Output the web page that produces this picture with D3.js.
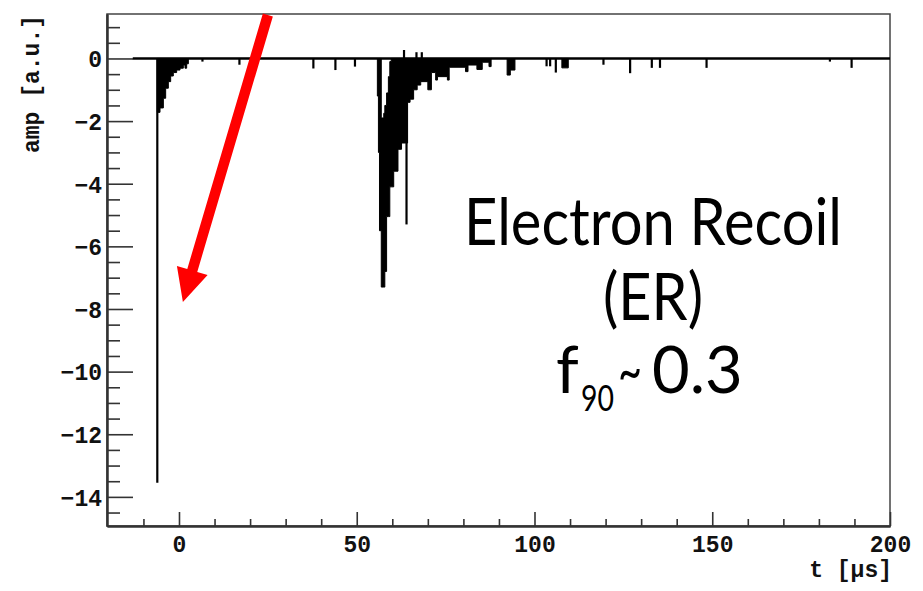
<!DOCTYPE html>
<html>
<head>
<meta charset="utf-8">
<script src="https://cdn.jsdelivr.net/npm/d3@7"></script>
<style>
  html, body { margin: 0; padding: 0; background: #fff; }
  svg { display: block; }
  .tick text { font-family: "Liberation Mono", "DejaVu Sans Mono", monospace; font-weight: bold; }
</style>
</head>
<body>
<div id="chart"></div>
<script>
'use strict';

// x ticks (t in microseconds) and y ticks (amplitude)
var xMajor = [0, 50, 100, 150, 200];
var xMinor = [-10, 10, 20, 30, 40, 60, 70, 80, 90, 110, 120, 130, 140, 160, 170, 180, 190];
var yMajor = [0, -2, -4, -6, -8, -10, -12, -14];
var yMinor = [1, 0.5, -0.5, -1, -1.5, -2.5, -3, -3.5, -4.5, -5, -5.5, -6.5, -7, -7.5,
  -8.5, -9, -9.5, -10.5, -11, -11.5, -12.5, -13, -13.5, -14.5];

// recorded trace window
var traceStart = -13;
var traceEnd = 200;

// envelope of the dense parts of the waveform: bin start time, lowest and highest sample
var envT  = [-6.1, -5.34, -4.4, -3.75, -3.0, -2.34, -1.6, -0.66, 0.28, 1.22, 1.69, 2.16, 2.63,
  55.8, 56.1, 56.4, 56.9, 57.6, 57.9, 58.4, 58.9, 59.3, 59.7, 60.4, 61.6, 62.6, 63.8, 64.3,
  65.0, 66.0, 67.0, 68.0, 70.0, 71.0, 72.2, 72.7, 75.5, 76.0, 80.6, 81.3, 83.8, 85.3, 87.2,
  87.8, 92.3, 93.2, 94.5, 107.7, 109.5];
var envLo = [-1.72, -1.58, -1.27, -0.95, -0.74, -0.56, -0.45, -0.37, -0.31, -0.21, -0.31, -0.17, 0,
  -1.2, -3.0, -5.5, -7.3, -7.3, -6.8, -5.05, -5.05, -4.1, -4.1, -3.6, -2.9, -2.7, -2.7, -1.4,
  -1.3, -1.0, -0.85, -0.74, -1.0, -0.45, -0.69, -0.58, -0.69, -0.28, -0.42, -0.21, -0.35, -0.12, -0.26,
  0, -0.53, -0.37, 0, -0.3, 0];
var envHi = [0, 0, 0, 0, 0, 0, 0, 0, 0, 0, 0, 0, 0,
  0, 0, 0, -1.9, -1.75, -1.5, -1.1, -0.58, -0.1, 0, 0, 0, 0, 0, 0,
  0, 0, 0, 0, 0, 0, 0, 0, 0, 0, 0, 0, 0, 0, 0,
  0, 0, 0, 0, 0, 0];

// isolated single-sample spikes
var spikeT   = [-6.1, 64.0, 6.6, 17.0, 37.8, 44.0, 49.5, 103.4, 104.4, 106.0, 119.4, 126.9,
  133.0, 135.3, 148.4, 183.1, 189.2, 63.3, 66.8, 68.3];
var spikeAmp = [-13.55, -5.3, -0.1, -0.2, -0.32, -0.37, -0.26, -0.25, -0.25, -0.45, -0.2, -0.47,
  -0.3, -0.3, -0.3, -0.1, -0.3, 0.27, 0.2, 0.2];

// annotation arrow (data coords): tail, head
var arrowFrom = [25.0, 1.39];
var arrowTo = [1.1, -7.78];

var width = 923, height = 591;
var margin = { top: 14, right: 33, bottom: 65, left: 107 };
var innerW = width - margin.left - margin.right;
var innerH = height - margin.top - margin.bottom;

var x = d3.scaleLinear().domain([-20.25, 200]).range([0, innerW]);
var y = d3.scaleLinear().domain([-14.93, 1.42]).range([innerH, 0]);

var svg = d3.select('#chart').append('svg')
    .attr('width', width)
    .attr('height', height);

var g = svg.append('g')
    .attr('transform', 'translate(' + margin.left + ',' + margin.top + ')');

// frame
g.append('rect')
    .attr('width', innerW)
    .attr('height', innerH)
    .attr('fill', 'none')
    .attr('stroke', '#444')
    .attr('stroke-width', 1.5);

// minor ticks
var yMinorAxis = g.append('g')
    .call(d3.axisLeft(y).tickValues(yMinor).tickSize(-13).tickSizeOuter(0).tickFormat(''));
var xMinorAxis = g.append('g')
    .attr('transform', 'translate(0,' + innerH + ')')
    .call(d3.axisBottom(x).tickValues(xMinor).tickSize(-7).tickSizeOuter(0).tickFormat(''));

// major ticks with labels
var yAxis = g.append('g')
    .call(d3.axisLeft(y).tickValues(yMajor).tickSize(-26).tickSizeOuter(0).tickPadding(5)
      .tickFormat(function (d) { return d < 0 ? '\u2212' + Math.abs(d) : d; }));
var xAxis = g.append('g')
    .attr('transform', 'translate(0,' + innerH + ')')
    .call(d3.axisBottom(x).tickValues(xMajor).tickSize(-14).tickSizeOuter(0).tickPadding(10));

[yMinorAxis, xMinorAxis, yAxis, xAxis].forEach(function (a) {
  a.selectAll('.domain').attr('stroke', '#333').attr('stroke-width', 2);
  a.selectAll('.tick line').attr('stroke', '#333').attr('stroke-width', 1.6);
});
g.selectAll('.tick text').attr('font-size', 23).attr('fill', '#111');
yAxis.selectAll('.tick text').attr('dy', '0.36em');
xAxis.selectAll('.tick text').attr('dy', '0.7em');

// axis titles
svg.append('text')
    .attr('x', margin.left + innerW + 2)
    .attr('y', 577)
    .attr('text-anchor', 'end')
    .attr('font-family', '"Liberation Mono", monospace')
    .attr('font-weight', 'bold')
    .attr('font-size', 23)
    .attr('fill', '#111')
    .text('t [\u03bcs]');

svg.append('text')
    .attr('transform', 'translate(39,15) rotate(-90)')
    .attr('text-anchor', 'end')
    .attr('font-family', '"Liberation Mono", monospace')
    .attr('font-weight', 'bold')
    .attr('font-size', 23)
    .attr('fill', '#111')
    .text('amp [a.u.]');

// waveform
var plot = g.append('g');

plot.append('line')
    .attr('x1', x(traceStart))
    .attr('x2', x(traceEnd))
    .attr('y1', y(0))
    .attr('y2', y(0))
    .attr('stroke', '#000')
    .attr('stroke-width', 2.5);

var env = envT.map(function (t, i) { return { t: t, lo: envLo[i], hi: envHi[i] }; });
var area = d3.area()
    .curve(d3.curveStepAfter)
    .x(function (d) { return x(d.t); })
    .y0(function (d) { return y(d.hi); })
    .y1(function (d) { return y(d.lo); });

plot.append('path')
    .datum(env)
    .attr('d', area)
    .attr('fill', '#000')
    .attr('stroke', '#000')
    .attr('stroke-width', 1);

plot.selectAll('line.spike')
    .data(spikeT.map(function (t, i) { return { t: t, a: spikeAmp[i] }; }))
    .enter()
    .append('line')
    .attr('class', 'spike')
    .attr('x1', function (d) { return x(d.t); })
    .attr('x2', function (d) { return x(d.t); })
    .attr('y1', y(0))
    .attr('y2', function (d) { return y(d.a); })
    .attr('stroke', '#000')
    .attr('stroke-width', 2.2);

// red arrow
var ax0 = x(arrowFrom[0]), ay0 = y(arrowFrom[1]);
var ax1 = x(arrowTo[0]), ay1 = y(arrowTo[1]);
var len = Math.hypot(ax1 - ax0, ay1 - ay0);
var ux = (ax1 - ax0) / len, uy = (ay1 - ay0) / len;
var headLen = 33, headHalf = 16, shaftHalf = 5.2;
var bx = ax1 - ux * headLen, by = ay1 - uy * headLen;
var px = -uy, py = ux;
var arrowPts = [
  [ax0 + px * shaftHalf, ay0 + py * shaftHalf],
  [bx + px * shaftHalf, by + py * shaftHalf],
  [bx + px * headHalf, by + py * headHalf],
  [ax1, ay1],
  [bx - px * headHalf, by - py * headHalf],
  [bx - px * shaftHalf, by - py * shaftHalf],
  [ax0 - px * shaftHalf, ay0 - py * shaftHalf]
];
g.append('path')
    .attr('d', d3.line()(arrowPts) + 'Z')
    .attr('fill', '#ff0000');

// annotation text
var note = svg.append('g')
    .attr('font-family', 'Lato, "Open Sans", sans-serif')
    .attr('fill', '#000');

note.append('text')
    .attr('x', 653).attr('y', 245)
    .attr('text-anchor', 'middle')
    .attr('font-size', 65)
    .attr('textLength', 378)
    .attr('lengthAdjust', 'spacingAndGlyphs')
    .text('Electron Recoil');

note.append('text')
    .attr('x', 653).attr('y', 320)
    .attr('text-anchor', 'middle')
    .attr('font-size', 65)
    .attr('textLength', 100)
    .attr('lengthAdjust', 'spacingAndGlyphs')
    .text('(ER)');

// f90 ~ 0.3, pieces placed one after another
note.append('text')
    .attr('x', 556).attr('y', 393)
    .attr('font-size', 65)
    .text('f');
note.append('text')
    .attr('x', 581).attr('y', 411)
    .attr('font-size', 36)
    .attr('textLength', 33)
    .attr('lengthAdjust', 'spacingAndGlyphs')
    .text('90');
note.append('text')
    .attr('x', 618).attr('y', 392)
    .attr('font-size', 58)
    .attr('textLength', 24)
    .attr('lengthAdjust', 'spacingAndGlyphs')
    .text('~');
note.append('text')
    .attr('x', 652).attr('y', 393)
    .attr('font-size', 65)
    .text('0.3');
</script>
</body>
</html>
